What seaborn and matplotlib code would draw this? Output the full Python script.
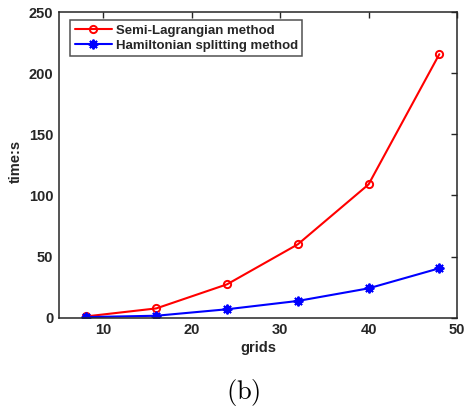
import matplotlib
matplotlib.use("Agg")
import matplotlib.pyplot as plt
import seaborn as sns
import pandas as pd

grids = [8, 16, 24, 32, 40, 48]
semi_lagrangian = [1.0, 7.6, 27.3, 60.0, 109.0, 215.5]
hamiltonian = [0.5, 1.6, 6.9, 13.7, 24.0, 40.4]
series_names = ["Semi-Lagrangian method", "Hamiltonian splitting method"]
xticks = [10, 20, 30, 40, 50]
yticks = [0, 50, 100, 150, 200, 250]

sns.set_theme(style="white")
plt.rcParams['font.family'] = ['Liberation Sans', 'DejaVu Sans']
plt.rcParams['mathtext.fontset'] = 'cm'

df_semi = pd.DataFrame({"grids": grids, "time": semi_lagrangian})
df_ham = pd.DataFrame({"grids": grids, "time": hamiltonian})

fig = plt.figure(figsize=(4.65, 4.09), dpi=100)
ax = fig.add_axes([59 / 465, 1 - 317.7 / 409, (457 - 59) / 465, (317.7 - 12) / 409])

sns.lineplot(data=df_semi, x="grids", y="time", color="#ff0000", marker="o",
             markersize=5.2, markeredgewidth=1.4, markerfacecolor="none",
             markeredgecolor="#ff0000", linewidth=1.5, ax=ax, label=series_names[0])
sns.lineplot(data=df_ham, x="grids", y="time", color="#0000ff", marker=(8, 2, 0),
             markersize=7, markeredgewidth=1.4, markeredgecolor="#0000ff",
             linewidth=1.5, ax=ax, label=series_names[1])

ax.set_xlim(5, 50)
ax.set_ylim(0, 250)
ax.set_xticks(xticks)
ax.set_yticks(yticks)
ax.tick_params(direction="in", length=4, width=1, colors="#262626",
               top=True, right=True, labelsize=10.5, pad=4)
for lab in ax.get_xticklabels() + ax.get_yticklabels():
    lab.set_fontweight("bold")
    lab.set_color("#262626")
for s in ax.spines.values():
    s.set_color("#262626")
    s.set_linewidth(1.1)

ax.set_xlabel("grids", fontsize=10.5, fontweight="bold", color="#262626", labelpad=3)
ax.set_ylabel("time:s", fontsize=10.5, fontweight="bold", color="#262626")
ax.yaxis.set_label_coords(-0.09, 0.51)

leg = ax.legend(loc="upper left", bbox_to_anchor=(11 / 398, 1 - 8 / 305.7),
                frameon=True, fancybox=False, edgecolor="#262626",
                borderpad=0.35, handlelength=2.8, handletextpad=0.3,
                labelspacing=0.2, borderaxespad=0,
                prop={"weight": "bold", "size": 9.5})
leg.get_frame().set_linewidth(1.1)

fig.text(243 / 465, 1 - 392 / 409, r"$\mathrm{(b)}$",
         ha="center", va="center", fontsize=19, color="black")

fig.savefig("out.png", dpi=100)
